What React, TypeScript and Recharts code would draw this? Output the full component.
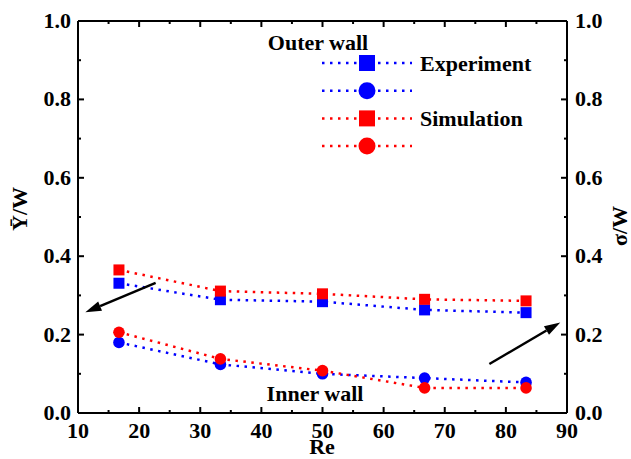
import { LineChart, Line, XAxis, YAxis, ReferenceLine } from 'recharts';

// Re values and dimensionless outputs
const reynolds = [16.7, 33.3, 50, 66.7, 83.3];
const expMean = [0.331, 0.289, 0.284, 0.263, 0.256];
const expSigma = [0.18, 0.124, 0.1, 0.089, 0.078];
const simMean = [0.365, 0.311, 0.304, 0.29, 0.286];
const simSigma = [0.206, 0.138, 0.108, 0.064, 0.064];

const xTicks = [10, 15, 20, 25, 30, 35, 40, 45, 50, 55, 60, 65, 70, 75, 80, 85, 90];
const yTicks = [0, 0.1, 0.2, 0.3, 0.4, 0.5, 0.6, 0.7, 0.8, 0.9, 1.0];

// arrows pointing to the axis each pair belongs to (data coords)
const arrowToLeft = [{ x: 22.7, y: 0.332 }, { x: 11.2, y: 0.257 }];
const arrowToRight = [{ x: 77.3, y: 0.125 }, { x: 88.9, y: 0.231 }];

const legendRows = [
  { color: '#0000ff', shape: 'square', label: 'Experiment' },
  { color: '#0000ff', shape: 'circle', label: '' },
  { color: '#ff0000', shape: 'square', label: 'Simulation' },
  { color: '#ff0000', shape: 'circle', label: '' },
];

const rows = reynolds.map((re, i) => ({
  re,
  expMean: expMean[i],
  expSigma: expSigma[i],
  simMean: simMean[i],
  simSigma: simSigma[i],
}));

const font = {
  fontFamily: "'Liberation Serif', 'Times New Roman', serif",
  fontWeight: 'bold' as const,
  fontSize: 22,
  fill: '#000',
};

const BLUE = '#0000ff';
const RED = '#ff0000';
const DASH = '2.5 5.5';

const isMajorX = (v: number) => v % 10 === 0;
const isMajorY = (v: number) => Math.round(v * 10) % 2 === 0;

function BottomTick({ x, y, payload }: any) {
  const major = isMajorX(payload.value);
  return (
    <g>
      <line x1={x} y1={y} x2={x} y2={y - (major ? 6 : 3)} stroke="#000" strokeWidth={2} />
      {major && (
        <text x={x} y={y + 25} textAnchor="middle" style={font}>
          {payload.value}
        </text>
      )}
    </g>
  );
}

function TopTick({ x, y, payload }: any) {
  const major = isMajorX(payload.value);
  return <line x1={x} y1={y} x2={x} y2={y + (major ? 6 : 3)} stroke="#000" strokeWidth={2} />;
}

function LeftTick({ x, y, payload }: any) {
  const major = isMajorY(payload.value);
  return (
    <g>
      <line x1={x} y1={y} x2={x + (major ? 6 : 3)} y2={y} stroke="#000" strokeWidth={2} />
      {major && (
        <text x={x - 7} y={y + 7} textAnchor="end" style={font}>
          {payload.value.toFixed(1)}
        </text>
      )}
    </g>
  );
}

function RightTick({ x, y, payload }: any) {
  const major = isMajorY(payload.value);
  return (
    <g>
      <line x1={x} y1={y} x2={x - (major ? 6 : 3)} y2={y} stroke="#000" strokeWidth={2} />
      {major && (
        <text x={x + 8} y={y + 7} textAnchor="start" style={font}>
          {payload.value.toFixed(1)}
        </text>
      )}
    </g>
  );
}

const squareDot = (color: string) => (p: any) =>
  <rect key={`s-${p.index}`} x={p.cx - 5.5} y={p.cy - 5.5} width={11} height={11} fill={color} />;

const circleDot = (color: string) => (p: any) =>
  <circle key={`c-${p.index}`} cx={p.cx} cy={p.cy} r={5.8} fill={color} />;

function Arrow(props: any) {
  const { x1, y1, x2, y2 } = props;
  const a = Math.atan2(y2 - y1, x2 - x1);
  const len = 16;
  const half = 5;
  const bx = x2 - len * Math.cos(a);
  const by = y2 - len * Math.sin(a);
  const pts = [
    `${x2},${y2}`,
    `${bx + half * Math.sin(a)},${by - half * Math.cos(a)}`,
    `${bx - half * Math.sin(a)},${by + half * Math.cos(a)}`,
  ].join(' ');
  return (
    <g>
      <line x1={x1} y1={y1} x2={bx} y2={by} stroke="#000" strokeWidth={2.5} />
      <polygon points={pts} fill="#000" />
    </g>
  );
}

function Overlay() {
  return (
    <svg width={631} height={459} style={{ position: 'absolute', left: 0, top: 0, pointerEvents: 'none' }}>
      <text x={318} y={50} textAnchor="middle" style={font}>Outer wall</text>
      <text x={315} y={401} textAnchor="middle" style={font}>Inner wall</text>
      <text x={322} y={454} textAnchor="middle" style={font}>Re</text>
      <text transform="translate(27,209) rotate(-90)" textAnchor="middle" style={font}>{'Y\u0304/W'}</text>
      <text transform="translate(627,226) rotate(-90)" textAnchor="middle" style={font}>σ/W</text>
      {legendRows.map((r, i) => {
        const cy = 63 + i * 27.7;
        return (
          <g key={i}>
            <line x1={322} y1={cy} x2={412} y2={cy} stroke={r.color} strokeWidth={2.5} strokeDasharray={DASH} />
            {r.shape === 'square' ? (
              <rect x={359} y={cy - 8} width={16} height={16} fill={r.color} />
            ) : (
              <circle cx={367} cy={cy} r={8.5} fill={r.color} />
            )}
            {r.label && (
              <text x={420} y={cy + 7.5} style={font}>{r.label}</text>
            )}
          </g>
        );
      })}
    </svg>
  );
}

export default function App() {
  return (
    <div style={{ position: 'absolute', left: 0, top: 0, width: 631, height: 459, background: '#fff' }}>
      <LineChart width={631} height={459} data={rows} margin={{ top: 0, right: 0, bottom: 0, left: 0 }}>
        <XAxis
          xAxisId="b"
          dataKey="re"
          type="number"
          domain={[10, 90]}
          ticks={xTicks}
          interval={0}
          height={46}
          tickSize={0}
          tickMargin={0}
          tickLine={false}
          axisLine={{ stroke: '#000', strokeWidth: 2 }}
          tick={(p: any) => <BottomTick {...p} />}
        />
        <XAxis
          xAxisId="t"
          orientation="top"
          dataKey="re"
          type="number"
          domain={[10, 90]}
          ticks={xTicks}
          interval={0}
          height={21}
          tickSize={0}
          tickMargin={0}
          tickLine={false}
          axisLine={{ stroke: '#000', strokeWidth: 2 }}
          tick={(p: any) => <TopTick {...p} />}
        />
        <YAxis
          yAxisId="l"
          type="number"
          domain={[0, 1]}
          ticks={yTicks}
          interval={0}
          width={78}
          tickSize={0}
          tickMargin={0}
          tickLine={false}
          axisLine={{ stroke: '#000', strokeWidth: 2 }}
          tick={(p: any) => <LeftTick {...p} />}
        />
        <YAxis
          yAxisId="r"
          orientation="right"
          type="number"
          domain={[0, 1]}
          ticks={yTicks}
          interval={0}
          width={64}
          tickSize={0}
          tickMargin={0}
          tickLine={false}
          axisLine={{ stroke: '#000', strokeWidth: 2 }}
          tick={(p: any) => <RightTick {...p} />}
        />
        <Line xAxisId="b" yAxisId="l" dataKey="expMean" stroke={BLUE} strokeWidth={2.5} strokeDasharray={DASH} dot={squareDot(BLUE)} activeDot={false} isAnimationActive={false} />
        <Line xAxisId="b" yAxisId="r" dataKey="expSigma" stroke={BLUE} strokeWidth={2.5} strokeDasharray={DASH} dot={circleDot(BLUE)} activeDot={false} isAnimationActive={false} />
        <Line xAxisId="b" yAxisId="l" dataKey="simMean" stroke={RED} strokeWidth={2.5} strokeDasharray={DASH} dot={squareDot(RED)} activeDot={false} isAnimationActive={false} />
        <Line xAxisId="b" yAxisId="r" dataKey="simSigma" stroke={RED} strokeWidth={2.5} strokeDasharray={DASH} dot={circleDot(RED)} activeDot={false} isAnimationActive={false} />
        <ReferenceLine xAxisId="b" yAxisId="l" segment={arrowToLeft} ifOverflow="visible" shape={(p: any) => <Arrow {...p} />} />
        <ReferenceLine xAxisId="b" yAxisId="l" segment={arrowToRight} ifOverflow="visible" shape={(p: any) => <Arrow {...p} />} />
      </LineChart>
      <Overlay />
    </div>
  );
}
